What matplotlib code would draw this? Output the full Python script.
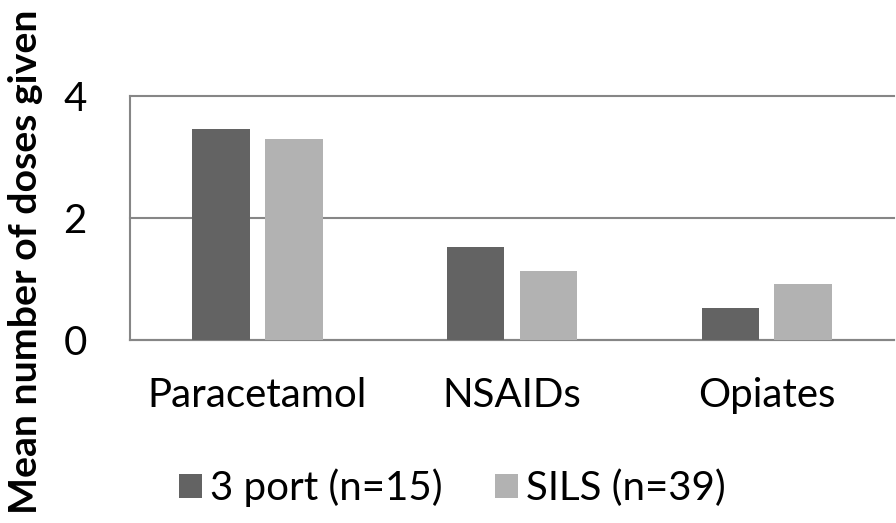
import matplotlib.pyplot as plt
import numpy as np

plt.rcParams['font.family'] = ['Lato', 'DejaVu Sans']

# Data
categories = ["Paracetamol", "NSAIDs", "Opiates"]
three_port = [3.46, 1.52, 0.52]
sils = [3.30, 1.13, 0.92]
series_labels = ["3 port (n=15)", "SILS (n=39)"]

fig = plt.figure(figsize=(8.96, 5.23), dpi=100)
ax = fig.add_axes([0.145, 0.35, 0.853, 0.4665])

x = np.arange(len(categories))
w = 0.226
off = 0.143
ax.bar(x - off, three_port, w, color="#636363", label=series_labels[0], zorder=3)
ax.bar(x + off, sils, w, color="#b2b2b2", label=series_labels[1], zorder=3)

ax.set_xlim(-0.5, 2.5)
ax.set_ylim(0, 4)
ax.set_yticks([0, 2, 4])
ax.set_xticks(x)
ax.set_xticklabels(categories)
ax.tick_params(axis="both", length=0, labelsize=29)
ax.tick_params(axis="y", pad=31)
ax.tick_params(axis="x", pad=27)

ax.grid(axis="y", color="#868686", linewidth=1.5, zorder=0)
for s in ["top", "right"]:
    ax.spines[s].set_visible(False)
for s in ["left", "bottom"]:
    ax.spines[s].set_color("#868686")
    ax.spines[s].set_linewidth(1.5)
for gl in ax.get_ygridlines():
    gl.set_clip_on(False)

fig.text(0.028, 0.5, "Mean number of doses given", rotation=90, fontsize=28.3,
         fontweight="bold", ha="center", va="center")

fig.legend(loc="center", bbox_to_anchor=(0.505, 0.067), ncol=2, frameon=False,
           fontsize=29, handlelength=0.57, handleheight=0.57, columnspacing=1.3,
           handletextpad=0.2)

plt.savefig("out.png", dpi=100)
